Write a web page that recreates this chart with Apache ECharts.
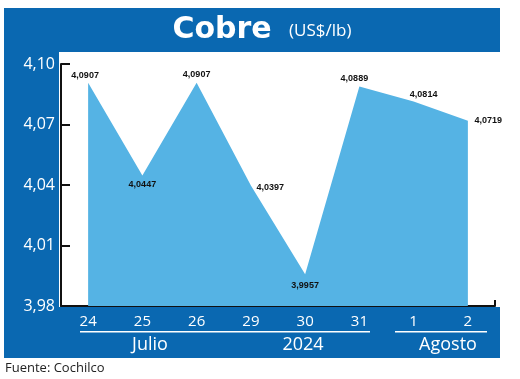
<!DOCTYPE html>
<html><head><meta charset="utf-8">
<script src="https://cdn.jsdelivr.net/npm/echarts@6/dist/echarts.min.js"></script>
<style>html,body{margin:0;padding:0;background:#fff}#c{width:520px;height:379px}</style>
</head><body><div id="c"></div>
<script>
const days = ['24','25','26','29','30','31','1','2'];
const values = [4.0907, 4.0447, 4.0907, 4.0397, 3.9957, 4.0889, 4.0814, 4.0719];
const yMin = 3.98, yMax = 4.10, yStep = 0.03;
const monthLabels = ['Julio', '2024', 'Agosto'];
const titleText = 'Cobre';
const unitText = '(US$/lb)';
const sourceText = 'Fuente: Cochilco';

const DARK = '#0a68b1';
const AREA = '#55b3e4';
const labelPlace = [
  {position:'top', distance:2, offset:[-3,0]},
  {position:'bottom', distance:3, offset:[0,1]},
  {position:'top', distance:3, offset:[0,0]},
  {position:'right', distance:5, offset:[0,2]},
  {position:'bottom', distance:4, offset:[0,2]},
  {position:'top', distance:3, offset:[-5,0]},
  {position:'top', distance:2, offset:[10,0]},
  {position:'right', distance:6, offset:[0,0]}
];
const fmt = v => v.toFixed(4).replace('.', ',');

const chart = echarts.init(document.getElementById('c'), null, {renderer:'canvas'});
chart.setOption({
  animation:false,
  backgroundColor:'#ffffff',
  grid:{left:61, right:25, top:64, bottom:73},
  xAxis:{
    type:'category', data:days, boundaryGap:true,
    axisLine:{show:true, lineStyle:{color:'#111', width:2}},
    axisTick:{show:false},
    axisLabel:{color:'#fff', fontSize:15, fontFamily:'Open Sans', margin:8}
  },
  yAxis:{
    type:'value', min:yMin, max:yMax, interval:yStep,
    splitLine:{show:false},
    axisLine:{show:true, lineStyle:{color:'#111', width:2}},
    axisTick:{show:true, inside:true, length:9, lineStyle:{color:'#111', width:2}},
    axisLabel:{color:'#fff', fontSize:16, fontFamily:'Open Sans', margin:6,
      formatter:v => v.toFixed(2).replace('.', ',')}
  },
  series:[{
    type:'line',
    data: values.map((v,i)=>({value:v, label:labelPlace[i]})),
    symbol:'circle', symbolSize:1, showSymbol:true,
    itemStyle:{color:'rgba(0,0,0,0)'},
    lineStyle:{width:0, color:AREA},
    areaStyle:{color:AREA, opacity:1},
    label:{show:true, color:'#111', fontSize:9, fontWeight:'bold',
      fontFamily:'"Liberation Sans", Arial, sans-serif',
      formatter:p => fmt(p.value)},
    z:3
  }],
  graphic:[
    {type:'rect', z:-10, shape:{x:4,y:8,width:496,height:44}, style:{fill:DARK}},
    {type:'rect', z:-10, shape:{x:4,y:52,width:55,height:256}, style:{fill:DARK}},
    {type:'rect', z:-10, shape:{x:4,y:307,width:496,height:51}, style:{fill:DARK}},
    {type:'text', z:10, x:222, y:30, style:{text:titleText, fill:'#fff', font:'bold 30px "DejaVu Sans"', textAlign:'center', textVerticalAlign:'middle'}},
    {type:'text', z:10, x:289, y:31, style:{text:unitText, fill:'#fff', font:'17px "Open Sans"', textAlign:'left', textVerticalAlign:'middle'}},
    {type:'rect', z:10, shape:{x:80,y:331,width:290,height:1.5}, style:{fill:'#fff'}},
    {type:'rect', z:10, shape:{x:395,y:331,width:92,height:1.5}, style:{fill:'#fff'}},
    {type:'text', z:10, x:150, y:345, style:{text:monthLabels[0], fill:'#fff', font:'18px "Open Sans"', textAlign:'center', textVerticalAlign:'middle'}},
    {type:'text', z:10, x:303, y:345, style:{text:monthLabels[1], fill:'#fff', font:'18px "Open Sans"', textAlign:'center', textVerticalAlign:'middle'}},
    {type:'text', z:10, x:448, y:345, style:{text:monthLabels[2], fill:'#fff', font:'18px "Open Sans"', textAlign:'center', textVerticalAlign:'middle'}},
    {type:'rect', z:10, shape:{x:494,y:300,width:2,height:6}, style:{fill:'#111'}},
    {type:'text', z:10, x:5, y:368, style:{text:sourceText, fill:'#222', font:'13px "Open Sans"', textAlign:'left', textVerticalAlign:'middle'}}
  ]
});
</script></body></html>
